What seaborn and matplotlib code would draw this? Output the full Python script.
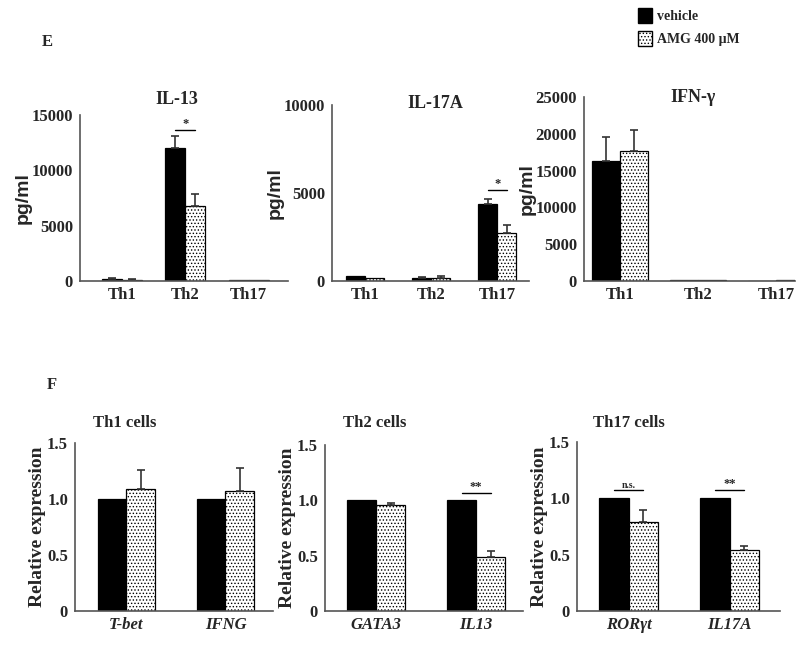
import numpy as np
import pandas as pd
import matplotlib
matplotlib.use("Agg")
import matplotlib.pyplot as plt
import seaborn as sns
from matplotlib.patches import Patch

# ---- data ----
treatments = ["vehicle", "AMG 400 \u03bcM"]
subsets = ["Th1", "Th2", "Th17"]

il13_vehicle = [150, 12000, 100]
il13_vehicle_err = [150, 1100, 0]
il13_amg = [120, 6800, 60]
il13_amg_err = [40, 1100, 0]

il17a_vehicle = [300, 150, 4400]
il17a_vehicle_err = [0, 80, 250]
il17a_amg = [150, 180, 2740]
il17a_amg_err = [0, 120, 440]

ifng_vehicle = [16370, 80, 60]
ifng_vehicle_err = [3160, 0, 0]
ifng_amg = [17680, 80, 100]
ifng_amg_err = [2800, 0, 0]

th1_genes = ["T-bet", "IFNG"]
th1_vehicle = [1.0, 1.0]
th1_amg = [1.09, 1.07]
th1_amg_err = [0.17, 0.21]

th2_genes = ["GATA3", "IL13"]
th2_vehicle = [1.0, 1.0]
th2_amg = [0.96, 0.49]
th2_amg_err = [0.02, 0.05]

th17_genes = ["ROR\u03b3t", "IL17A"]
th17_vehicle = [1.0, 1.0]
th17_amg = [0.79, 0.54]
th17_amg_err = [0.11, 0.04]

sns.set_style("white")
plt.rcParams["font.family"] = ["Liberation Serif", "DejaVu Serif"]
plt.rcParams["font.weight"] = "bold"
plt.rcParams["hatch.linewidth"] = 0.6
plt.rcParams["hatch.color"] = "black"

W, H = 800, 648
fig = plt.figure(figsize=(W / 100, H / 100), dpi=100)


def px_axes(left, right, top, bottom):
    return fig.add_axes([left / W, 1 - bottom / H, (right - left) / W, (bottom - top) / H])


def long_df(cats, veh, amg):
    return pd.DataFrame({
        "cat": list(cats) * 2,
        "value": list(veh) + list(amg),
        "treatment": [treatments[0]] * len(cats) + [treatments[1]] * len(cats),
    })


def draw_panel(ax, cats, veh, amg, veh_err, amg_err, width, ylim, yticks, yticklabels, italic=False):
    df = long_df(cats, veh, amg)
    sns.barplot(data=df, x="cat", y="value", hue="treatment", hue_order=treatments,
                palette=["black", "white"], errorbar=None, width=width,
                edgecolor="black", linewidth=0.9, legend=False, ax=ax)
    for bar in ax.containers[1]:
        bar.set_hatch(".....")
    # one-sided (upper) error bars
    for cont, errs in zip(ax.containers, [veh_err, amg_err]):
        for bar, e in zip(cont, errs):
            if e > 0:
                x = bar.get_x() + bar.get_width() / 2
                ax.errorbar(x, bar.get_height(), yerr=[[0], [e]], fmt="none",
                            ecolor="#333333", elinewidth=1.2, capsize=3, capthick=1.2)
    ax.set_ylim(*ylim)
    ax.set_yticks(yticks)
    ax.set_yticklabels(yticklabels)
    ax.set_xlabel("")
    ax.set_ylabel("")
    sns.despine(ax=ax)
    for s in ["left", "bottom"]:
        ax.spines[s].set_color("#555555")
        ax.spines[s].set_linewidth(1.2)
    ax.tick_params(axis="y", length=3, width=1, color="#555555", pad=2, labelsize=12)
    ax.tick_params(axis="x", length=0, pad=4, labelsize=12)
    if italic:
        for t in ax.get_xticklabels():
            t.set_style("italic")


def sig(ax, idx, y, text, size=9):
    b0 = ax.containers[0][idx]
    b1 = ax.containers[1][idx]
    x0 = b0.get_x() + b0.get_width() / 2
    x1 = b1.get_x() + b1.get_width() / 2
    ax.plot([x0, x1], [y, y], color="black", lw=1)
    ax.text((x0 + x1) / 2, y, text, ha="center", va="bottom", fontsize=size, fontweight="bold")


# ---- panel E ----
ax1 = px_axes(80, 288, 115, 281)
draw_panel(ax1, subsets, il13_vehicle, il13_amg, il13_vehicle_err, il13_amg_err, 0.63,
           (0, 15000), [0, 5000, 10000, 15000], ["0", "5000", "10000", "15000"])
ax1.set_xlim(-0.66, 2.62)
sig(ax1, 1, 13600, "*")

ax2 = px_axes(332, 529, 105, 281)
draw_panel(ax2, subsets, il17a_vehicle, il17a_amg, il17a_vehicle_err, il17a_amg_err, 0.58,
           (0, 10000), [0, 5000, 10000], ["0", "5000", "10000"])
ax2.set_xlim(-0.5, 2.48)
sig(ax2, 2, 5170, "*")

ax3 = px_axes(584, 795, 97, 281)
draw_panel(ax3, subsets, ifng_vehicle, ifng_amg, ifng_vehicle_err, ifng_amg_err, 0.72,
           (0, 25000), [0, 5000, 10000, 15000, 20000, 25000],
           ["0", "5000", "10000", "15000", "20000", "25000"])
ax3.set_xlim(-0.46, 2.24)

for ax, title, x, y in [(ax1, "IL-13", 177, 100), (ax2, "IL-17A", 435, 103), (ax3, "IFN-\u03b3", 693, 98)]:
    fig.text(x / W, 1 - y / H, title, ha="center", va="center", fontsize=13, fontweight="bold")
    ax.set_ylabel("pg/ml", family="Liberation Sans", fontsize=14, fontweight="bold", labelpad=0)

# ---- panel F ----
zero_one = ["0", "0.5", "1.0", "1.5"]
ax4 = px_axes(75, 273, 443, 611)
draw_panel(ax4, th1_genes, th1_vehicle, th1_amg, [0, 0], th1_amg_err, 0.58,
           (0, 1.5), [0, 0.5, 1.0, 1.5], zero_one, italic=True)
ax4.set_xlim(-0.52, 1.48)

ax5 = px_axes(325, 523, 445, 611)
draw_panel(ax5, th2_genes, th2_vehicle, th2_amg, [0, 0], th2_amg_err, 0.58,
           (0, 1.5), [0, 0.5, 1.0, 1.5], zero_one, italic=True)
ax5.set_xlim(-0.51, 1.47)
sig(ax5, 1, 1.07, "**")

ax6 = px_axes(577, 780, 442, 611)
draw_panel(ax6, th17_genes, th17_vehicle, th17_amg, [0, 0], th17_amg_err, 0.58,
           (0, 1.5), [0, 0.5, 1.0, 1.5], zero_one, italic=True)
ax6.set_xlim(-0.51, 1.5)
sig(ax6, 0, 1.07, "n.s.", size=7)
sig(ax6, 1, 1.07, "**")

for ax, title, x in [(ax4, "Th1 cells", 93), (ax5, "Th2 cells", 343), (ax6, "Th17 cells", 593)]:
    fig.text(x / W, 1 - 423 / H, title, ha="left", va="center", fontsize=12, fontweight="bold")
    ax.set_ylabel("Relative expression", fontsize=14, fontweight="bold", labelpad=1)

fig.text(47 / W, 1 - 42 / H, "E", ha="center", va="center", fontsize=12, fontweight="bold")
fig.text(52 / W, 1 - 385 / H, "F", ha="center", va="center", fontsize=12, fontweight="bold")

handles = [Patch(facecolor="black", edgecolor="black"),
           Patch(facecolor="white", edgecolor="black", hatch=".....")]
fig.legend(handles, treatments, loc="upper left", bbox_to_anchor=(628 / W, 1 + 2 / H),
           frameon=False, handlelength=1.0, handleheight=1.3,
           handletextpad=0.4, labelspacing=0.6, borderpad=0.2,
           prop={"family": "Liberation Serif", "weight": "bold", "size": 10})

fig.savefig("out.png", dpi=100)
